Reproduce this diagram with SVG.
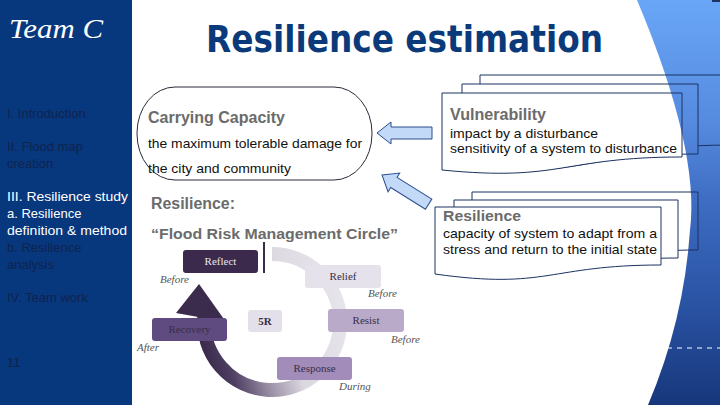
<svg xmlns="http://www.w3.org/2000/svg" width="720" height="405" viewBox="0 0 720 405">
<style>
.side{font-family:"Liberation Sans",Arial,sans-serif;font-size:13px;fill:#10244f}
.sideOn{fill:#ffffff}
.head{font-family:"Liberation Sans",Arial,sans-serif;font-weight:bold;fill:#6b6b6b}
.body{font-family:"Liberation Sans",Arial,sans-serif;font-size:13px;fill:#111}
.doc{stroke:#1b3262;stroke-width:1;fill:url(#bg)}
.box{font-family:"Liberation Serif","Times New Roman",serif;font-size:11px;text-anchor:middle;fill:#3a2f48}
.when{font-family:"Liberation Serif","Times New Roman",serif;font-size:11px;font-style:italic;fill:#555}
.arrow{fill:#c2d9f7;stroke:#2b4c8c;stroke-width:1}
</style>
<defs>
<linearGradient id="blueGrad" x1="0" y1="0" x2="0" y2="405" gradientUnits="userSpaceOnUse">
<stop offset="0" stop-color="#69a6f8"/>
<stop offset="0.3" stop-color="#568bdf"/>
<stop offset="0.5" stop-color="#3d6cc2"/>
<stop offset="0.75" stop-color="#2a53a4"/>
<stop offset="1" stop-color="#17377b"/>
</linearGradient>
<pattern id="bg" patternUnits="userSpaceOnUse" x="0" y="0" width="720" height="405">
<rect width="720" height="405" fill="#ffffff"/>
<path d="M637,0 Q700,150 690,230 Q684,320 648,405 L720,405 L720,0 Z" fill="url(#blueGrad)"/>
</pattern>
<linearGradient id="ringGrad" x1="340" y1="300" x2="200" y2="340" gradientUnits="userSpaceOnUse">
<stop offset="0" stop-color="#e6e4ea"/>
<stop offset="0.4" stop-color="#dcd8e0"/>
<stop offset="0.63" stop-color="#9a90a6"/>
<stop offset="0.85" stop-color="#4f3f62"/>
<stop offset="1" stop-color="#3a2a4c"/>
</linearGradient>
</defs>

<rect width="720" height="405" fill="url(#bg)"/>
<rect x="712" y="0" width="8" height="2" fill="#1b3262"/>
<line x1="667" y1="348" x2="720" y2="348" stroke="#ffffff" stroke-width="1" stroke-dasharray="5,5"/>

<g id="sidebar">
<rect x="0" y="0" width="132" height="405" fill="#07377d"/>
<text x="9" y="38" font-family="Liberation Serif,serif" font-style="italic" font-size="28" fill="#ffffff" textLength="94" lengthAdjust="spacingAndGlyphs">Team C</text>
<text class="side" x="7" y="118">I. Introduction</text>
<text class="side" x="7" y="151">II. Flood map</text>
<text class="side" x="7" y="168">creation</text>
<text class="side sideOn" x="7" y="201" textLength="121" lengthAdjust="spacingAndGlyphs">III. Resilience study</text>
<text class="side sideOn" x="7" y="218">a. Resilience</text>
<text class="side sideOn" x="7" y="235" textLength="120" lengthAdjust="spacingAndGlyphs">definition &amp; method</text>
<text class="side" x="7" y="252">b. Resilience</text>
<text class="side" x="7" y="269">analysis</text>
<text class="side" x="7" y="302">IV. Team work</text>
<text class="side" x="7" y="367">11</text>
</g>

<g id="title">
<text x="206" y="52" font-family="DejaVu Sans,Verdana,sans-serif" font-weight="bold" font-size="38" fill="#0b3a7a" textLength="397" lengthAdjust="spacingAndGlyphs">Resilience estimation</text>
</g>

<g id="carrying-capacity">
<rect x="137" y="87" width="235" height="93" rx="38" ry="46" fill="none" stroke="#2a2a3a" stroke-width="1"/>
<text class="head" x="148" y="123" font-size="17" textLength="137" lengthAdjust="spacingAndGlyphs">Carrying Capacity</text>
<text class="body" x="148" y="148" font-size="14" textLength="214" lengthAdjust="spacingAndGlyphs">the maximum tolerable damage for</text>
<text class="body" x="148" y="173" font-size="14" textLength="143" lengthAdjust="spacingAndGlyphs">the city and community</text>
</g>

<g id="resilience-circle-title">
<text class="head" x="151" y="209" font-size="16" textLength="84" lengthAdjust="spacingAndGlyphs">Resilience:</text>
<text class="head" x="151" y="239" font-size="15" textLength="247" lengthAdjust="spacingAndGlyphs">“Flood Risk Management Circle”</text>
</g>

<g id="vulnerability">
<path class="doc" d="M480,75 H735 V145 C607,145 607,170 480,158 Z"/>
<path class="doc" d="M462,84 H698 V154 C580,154 580,179 462,167 Z"/>
<path class="doc" d="M442,93 H682 V157 C562,157 562,182 442,170 Z"/>
<text class="head" x="450" y="120" font-size="16" textLength="96" lengthAdjust="spacingAndGlyphs">Vulnerability</text>
<text class="body" x="450" y="138" textLength="148" lengthAdjust="spacingAndGlyphs">impact by a disturbance</text>
<text class="body" x="450" y="153" textLength="227" lengthAdjust="spacingAndGlyphs">sensitivity of a system to disturbance</text>
</g>

<g id="resilience-definition">
<path class="doc" d="M472,192 H698 V250 C585,250 585,275 472,259 Z"/>
<path class="doc" d="M454,200 H678 V258 C566,258 566,283 454,267 Z"/>
<path class="doc" d="M435,207 H661 V265 C548,265 548,290 435,274 Z"/>
<text class="head" x="443" y="221" font-size="15" textLength="78" lengthAdjust="spacingAndGlyphs">Resilience</text>
<text class="body" x="443" y="238" textLength="214" lengthAdjust="spacingAndGlyphs">capacity of system to adapt from a</text>
<text class="body" x="443" y="254" textLength="214" lengthAdjust="spacingAndGlyphs">stress and return to the initial state</text>
</g>

<g id="connectors">
<polygon class="arrow" transform="translate(377,133)" points="0,0 14,-11 14,-6 55,-6 55,6 14,6 14,11"/>
<polygon class="arrow" transform="translate(382,175) rotate(32)" points="0,0 14,-11 14,-6 55,-6 55,6 14,6 14,11"/>
<path d="M272,254 A68,68 0 1 1 204.3,316.1" fill="none" stroke="url(#ringGrad)" stroke-width="14"/>
<polygon points="199,284 176,313 226,322" fill="#3b2b4d"/>
<line x1="264" y1="242" x2="264" y2="273" stroke="#3a2a4c" stroke-width="2"/>
</g>

<g id="reflect">
<rect x="183" y="250" width="75" height="23" rx="3" fill="#3c2a4c"/>
<text class="box" x="220.5" y="265" fill="#e8e4ee" style="fill:#e8e4ee">Reflect</text>
<text class="when" x="160" y="283">Before</text>
</g>
<g id="relief">
<rect x="305" y="265" width="76" height="23" rx="3" fill="#e6e2ec"/>
<text class="box" x="343" y="280">Relief</text>
<text class="when" x="368" y="297">Before</text>
</g>
<g id="resist">
<rect x="328" y="309" width="76" height="23" rx="3" fill="#b9aaca"/>
<text class="box" x="366" y="324">Resist</text>
<text class="when" x="391" y="343">Before</text>
</g>
<g id="response">
<rect x="277" y="357" width="75" height="23" rx="3" fill="#a18cba"/>
<text class="box" x="314.5" y="372">Response</text>
<text class="when" x="339" y="390">During</text>
</g>
<g id="recovery">
<rect x="152" y="318" width="75" height="23" rx="3" fill="#5f4b80"/>
<text class="box" x="189.5" y="333">Recovery</text>
<text class="when" x="137" y="351">After</text>
</g>
<g id="five-r">
<rect x="248" y="310" width="34" height="22" rx="3" fill="#e4e0ea"/>
<text class="box" x="265" y="325" font-weight="bold">5R</text>
</g>
</svg>
